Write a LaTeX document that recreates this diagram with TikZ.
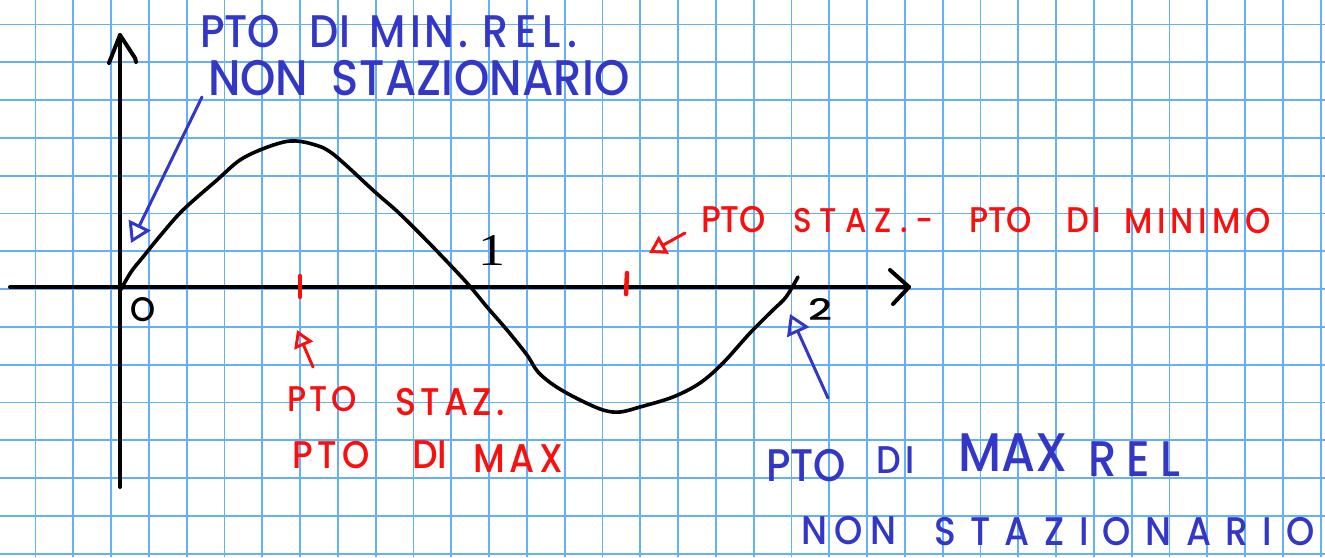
\documentclass[tikz,border=0pt]{standalone}
\usepackage{fontspec}
\setmainfont{Poppins}
\newfontfamily\hand{Poppins}[FakeStretch=0.9, BoldFont={Poppins Medium}]
\newfontfamily\digitfont{Liberation Serif}
\usetikzlibrary{arrows.meta}
\definecolor{gridc}{RGB}{100,176,252}
\definecolor{bluepen}{RGB}{50,55,200}
\definecolor{redpen}{RGB}{250,15,15}
\makeatletter
\newif\ifsw@first
\newcommand{\spreadword}[1]{\sw@firsttrue\@tfor\sw@c:=#1\do{\ifsw@first\sw@firstfalse\else\hfill\fi\sw@c}}
\makeatother
% one handwritten word: width, cap height, raise, letters
\newcommand{\hw}[4]{\raisebox{#3pt}{\fontsize{\fpeval{#2/0.70}pt}{\fpeval{#2/0.70}pt}\selectfont\makebox[#1pt][s]{\spreadword{#4}}}}
\newcommand{\gap}[1]{\hspace{#1pt}}
\newcommand{\fitbox}[3]{\resizebox{#1pt}{#2pt}{#3}}
\tikzset{
  gridline/.style={gridc, line width=1.8pt},
  axisline/.style={black, line width=4pt, line cap=round, line join=round},
  curveline/.style={black, line width=3.6pt, line cap=round, line join=round},
  txt/.style={anchor=base west, inner sep=0pt, outer sep=0pt, font=\hand\bfseries},
  ptr/.style={line width=3pt, line cap=round, line join=round, -{Triangle[open, length=17pt, width=20pt, line width=3pt]}},
  bigptr/.style={line width=3pt, line cap=round, line join=round, -{Triangle[open, length=20pt, width=24pt, line width=3pt]}},
  tickmark/.style={redpen, line width=4.5pt, line cap=round},
}
\begin{document}
\begin{tikzpicture}[x=1pt, y=-1pt]
\useasboundingbox (0,0) rectangle (1325,557);
\fill[white] (0,0) rectangle (1325,557);
% grid
\foreach \k in {0,...,34} \draw[gridline] ({35.5+37.8*\k},0) -- ++(0,557);
\foreach \k in {0,...,14} \draw[gridline] (0,{24.5+37.8*\k}) -- ++(1325,0);
% axes
\coordinate (ybot) at (120,487);
\coordinate (ytop) at (120,35);
\coordinate (xleft) at (10,287);
\coordinate (xright) at (909,287);
\draw[axisline] (ybot) -- (ytop);
\draw[axisline] (109,63) -- (ytop) -- (135,58) -- (136,62);
\draw[axisline] (xleft) -- (xright);
\draw[axisline] (890,270) -- (xright) -- (893,304);
% curve
\draw[curveline] plot[smooth, tension=0.55] coordinates {
 (120,291) (131,272) (143,257) (160,236) (183,210) (217,180) (240,160) (265,148)
 (290,141) (312,144) (333,154) (375,192) (400,214) (433,247) (467,283)
 (487,307) (507,330) (527,355) (538,372) (555,386) (578,399) (603,410)
 (620,412) (640,407) (673,397) (700,383) (723,363) (750,333) (773,310)
 (786,297) (798,277)};
% axis labels
\node[txt, black] (lO) at (130,321) {\fitbox{25}{24}{O}};
\node[txt, black, font=\digitfont] (l1) at (478,265) {\fitbox{27}{30}{1}};
\node[txt, black] (l2) at (808,320) {\fitbox{24}{22}{2}};
% red ticks
\coordinate (t1a) at (300,276);
\coordinate (t1b) at (300,297);
\coordinate (t2a) at (627,273);
\coordinate (t2b) at (626,294);
\draw[tickmark] (t1a) -- (t1b);
\draw[tickmark] (t2a) -- (t2b);
% blue texts
\node[txt, bluepen] (b1) at (200,47) {\hw{72}{32}{0}{PTO}\gap{38}\hw{30}{32}{0}{DI}\gap{30}\hw{98}{32}{0}{MIN.}\gap{15}\hw{94}{32}{0}{REL.}};
\node[txt, bluepen] (b2) at (208,95) {\hw{82}{35}{0}{NON}\gap{42}\hw{298}{35}{0}{STAZIONARIO}};
\node[txt, bluepen] (b3) at (766,481) {\hw{77}{32}{0}{PTO}\gap{33}\hw{39}{27}{8}{DI}\gap{43}\hw{91}{38}{10}{MAX}\gap{39}\hw{93}{35}{5}{REL}};
\node[txt, bluepen] (b4) at (801,545) {\hw{95}{28}{1}{NON}\gap{38}\hw{381}{28}{0}{STAZIONARIO}};
% red texts
\node[txt, redpen] (r1) at (701,232) {\hw{49}{26}{0}{PTO}\gap{43}\hw{141}{24}{0}{STAZ.-}\gap{35}\hw{63}{25}{0}{PTO}\gap{35}\hw{34}{25}{0}{DI}\gap{23}\hw{147}{25}{-1}{MINIMO}};
\node[txt, redpen] (r2) at (287,411) {\hw{70}{25}{0}{PTO}\gap{38}\hw{110}{27}{-4}{STAZ.}};
\node[txt, redpen] (r3) at (292,468) {\hw{78}{27}{0}{PTO}\gap{42}\hw{31}{28}{0}{DI}\gap{30}\hw{90}{28}{-4}{MAX}};
% pointers
\coordinate (pb1s) at (202,97);
\coordinate (pb1e) at (131,243);
\coordinate (pb2s) at (828,398);
\coordinate (pb2e) at (790,314);
\coordinate (pr1s) at (313,367);
\coordinate (pr1e) at (297,330);
\coordinate (pr2s) at (685,233);
\coordinate (pr2e) at (649,253);
\draw[bigptr, bluepen] (pb1s) -- (pb1e);
\draw[bigptr, bluepen] (pb2s) -- (pb2e);
\draw[ptr, redpen] (pr1s) -- (pr1e);
\draw[ptr, redpen] (pr2s) -- (pr2e);
\end{tikzpicture}
\end{document}
